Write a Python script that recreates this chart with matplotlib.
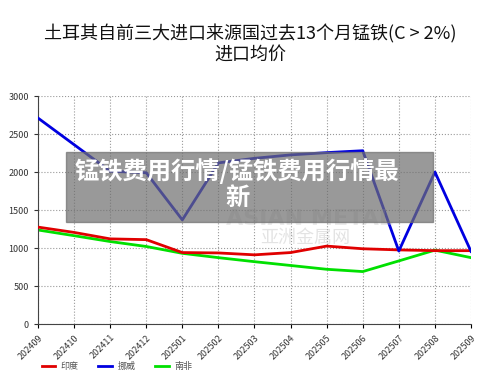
import matplotlib
matplotlib.use('Agg')
import matplotlib.pyplot as plt
from matplotlib.patches import Rectangle

plt.rcParams['font.family'] = ['Noto Sans CJK SC', 'DejaVu Sans']

months = ['202409', '202410', '202411', '202412', '202501', '202502', '202503',
          '202504', '202505', '202506', '202507', '202508', '202509']
india = [1275, 1205, 1120, 1110, 940, 935, 910, 940, 1025, 990, 975, 965, 965]
norway = [2710, 2360, 2010, 1990, 1370, 2120, 2180, 2225, 2255, 2280, 960, 2000, 955]
safrica = [1237, 1162, 1085, 1020, 930, 873, 820, 770, 720, 690, 830, 972, 873]

fig = plt.figure(figsize=(5, 3.75), dpi=100)
ax = fig.add_axes([0.076, 0.136, 0.866, 0.608])

x = range(len(months))
ax.plot(x, india, color='#e00000', lw=2, label='印度', zorder=3)
ax.plot(x, norway, color='#0000e0', lw=2, label='挪威', zorder=3)
ax.plot(x, safrica, color='#00e000', lw=2, label='南非', zorder=2)

ax.set_xlim(0, len(months) - 1)
ax.set_ylim(0, 3000)
ax.set_yticks(range(0, 3001, 500))
ax.set_xticks(list(x))
ax.set_xticklabels(months, rotation=45, ha='right', rotation_mode='anchor', fontsize=6.5, color='#333333')
ax.tick_params(axis='y', labelsize=6.5, colors='#333333', length=3)
ax.tick_params(axis='x', length=3)
ax.grid(True, color='#999999', ls=':', lw=0.8)
for s in ['top', 'right']:
    ax.spines[s].set_visible(False)
for s in ['left', 'bottom']:
    ax.spines[s].set_color('#444444')

# faint watermark
fig.text(0.62, 0.415, 'ASIAN METAL', fontsize=16, color='#bbbbbb', alpha=0.3,
         ha='center', va='center', fontweight='bold', family='DejaVu Sans')
fig.text(0.61, 0.365, '亚洲金属网', fontsize=13, color='#bbbbbb', alpha=0.4,
         ha='center', va='center')

fig.text(0.5, 0.883, '土耳其自前三大进口来源国过去13个月锰铁(C > 2%)\n进口均价',
         ha='center', va='center', fontsize=13, color='#111111', linespacing=1.2)

# banner overlay
fig.patches.append(Rectangle((66 / 500, 1 - 222 / 375), 367 / 500, 70 / 375,
                             transform=fig.transFigure, color='#6e6e6e', alpha=0.7, zorder=5))
fig.text(0.474, 0.51, '锰铁费用行情/锰铁费用行情最\n新', ha='center', va='center',
         fontsize=17.5, color='white', fontweight='bold', zorder=6, linespacing=1.1)

leg = ax.legend(loc='center left', bbox_to_anchor=(0.0, -0.185), ncol=3, frameon=False,
                borderaxespad=0, fontsize=6.5, handlelength=1.5, columnspacing=2.2,
                handletextpad=0.6)
for t in leg.get_texts():
    t.set_color('#555555')

fig.savefig('out.png', dpi=100)
